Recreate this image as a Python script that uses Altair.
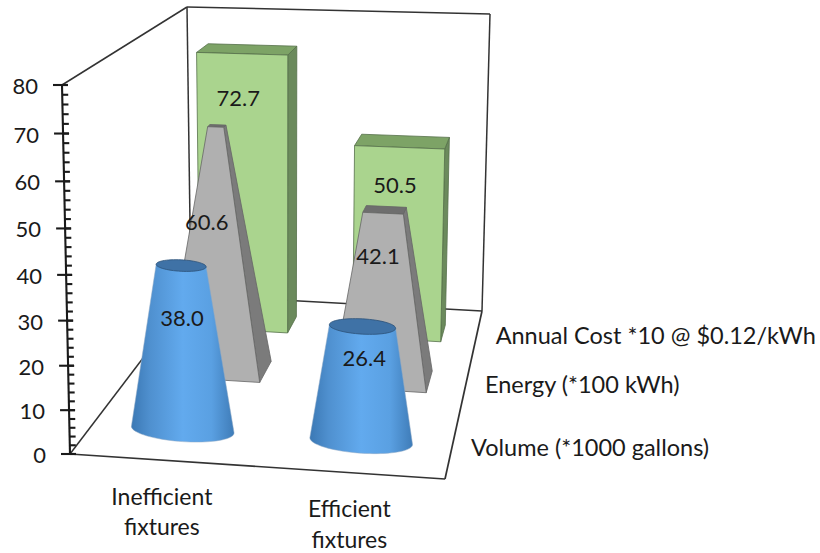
import math
import altair as alt
import pandas as pd

# Values shown on the chart
categories = ["Inefficient fixtures", "Efficient fixtures"]
series = ["Volume (*1000 gallons)", "Energy (*100 kWh)", "Annual Cost *10 @ $0.12/kWh"]
volume = [38.0, 26.4]
energy = [60.6, 42.1]
cost = [72.7, 50.5]
axis_ticks = list(range(0, 81, 10))
minor_ticks = list(range(0, 81, 2))

# Where the 3-D box of the plot lands on the canvas
W, H = 820, 553
FLOOR = {"fl": (70, 454), "fr": (445, 479), "bl": (191, 295), "br": (482, 311)}
CEIL = {"fl": (62, 85), "fr": (453, 99), "bl": (187, 7), "br": (490, 14)}
AXIS_MAX = 80
PERSPECTIVE = 0.06  # ticks spread out slightly towards the top of the box
APEX = max(cost)  # pyramids and cones taper to a point at the tallest value


def project(u, d, h):
    """Map category position u, depth d and value h to canvas coordinates."""
    r = h / AXIS_MAX
    t = r / (1 + PERSPECTIVE - PERSPECTIVE * r)
    out = []
    for k in (0, 1):
        floor = (1 - d) * ((1 - u) * FLOOR["fl"][k] + u * FLOOR["fr"][k]) + d * (
            (1 - u) * FLOOR["bl"][k] + u * FLOOR["br"][k]
        )
        ceil = (1 - d) * ((1 - u) * CEIL["fl"][k] + u * CEIL["fr"][k]) + d * (
            (1 - u) * CEIL["bl"][k] + u * CEIL["br"][k]
        )
        out.append((1 - t) * floor + t * ceil)
    return tuple(out)


X = alt.X("x:Q", scale=alt.Scale(domain=[0, W], nice=False, zero=False), axis=None)
Y = alt.Y("y:Q", scale=alt.Scale(domain=[H, 0], nice=False, zero=False), axis=None)


def poly_layer(points, fill, stroke=None, width=0.8):
    df = pd.DataFrame(points, columns=["x", "y"])
    df["i"] = range(len(df))
    kw = dict(fill=fill, interpolate="linear-closed", strokeWidth=width)
    kw["stroke"] = stroke if stroke else "transparent"
    return (
        alt.Chart(df)
        .mark_line(**kw)
        .encode(x=X, y=Y, order="i:Q")
    )


def segments_layer(segments, color, width):
    rows = []
    for n, (a, b) in enumerate(segments):
        rows.append({"x": a[0], "y": a[1], "seg": n, "i": 0})
        rows.append({"x": b[0], "y": b[1], "seg": n, "i": 1})
    return (
        alt.Chart(pd.DataFrame(rows))
        .mark_line(color=color, strokeWidth=width)
        .encode(x=X, y=Y, detail="seg:N", order="i:Q")
    )


def text_layer(rows, size=21, align="center", dx=0, dy=0, color="#1a1a1a"):
    df = pd.DataFrame(rows, columns=["x", "y", "label"])
    return (
        alt.Chart(df)
        .mark_text(font="Lato", fontSize=size, align=align, baseline="middle",
                   dx=dx, dy=dy, color=color)
        .encode(x=X, y=Y, text="label:N")
    )


def block(uc, hw, dc, hd, h, taper, front, side, top, edge):
    """Square column or truncated pyramid: visible faces, back to front."""
    s = 1 - h / APEX if taper else 1
    fbl = project(uc - hw, dc - hd, 0)
    fbr = project(uc + hw, dc - hd, 0)
    bbr = project(uc + hw, dc + hd, 0)
    ftl = project(uc - hw * s, dc - hd * s, h)
    ftr = project(uc + hw * s, dc - hd * s, h)
    btr = project(uc + hw * s, dc + hd * s, h)
    btl = project(uc - hw * s, dc + hd * s, h)
    return [
        poly_layer([fbr, bbr, btr, ftr], side, edge),
        poly_layer([ftl, ftr, btr, btl], top, edge),
        poly_layer([fbl, fbr, ftr, ftl], front, edge),
    ]


CONE_GRADIENT = alt.LinearGradient(
    gradient="linear",
    x1=0, x2=1, y1=0, y2=0,
    stops=[
        alt.GradientStop(color="#3b78b4", offset=0),
        alt.GradientStop(color="#4f90cf", offset=0.18),
        alt.GradientStop(color="#62aaee", offset=0.5),
        alt.GradientStop(color="#5aa0e2", offset=0.78),
        alt.GradientStop(color="#3f7cb8", offset=1),
    ],
)


def cone(uc, r, d, h, minor):
    s = 1 - h / APEX

    def rim(height, scale, start, stop, n=40):
        pts = []
        for j in range(n + 1):
            a = math.radians(start + (stop - start) * j / n)
            px, py = project(uc + r * scale * math.cos(a), d, height)
            pts.append((px, py + minor * scale * math.sin(a)))
        return pts

    body = rim(0, 1, 180, 0)
    body = [rim(h, s, 180, 180, 1)[0]] + body + [rim(h, s, 0, 0, 1)[0]]
    return [
        poly_layer(body, CONE_GRADIENT, "#8fa9c4", 0.5),
        poly_layer(rim(h, s, 0, 360, 60), "#3f72a6", "#2c5278", 0.8),
    ]


# Layout of the rows and columns on the floor of the box
U_CENTER = [0.245, 0.745]
GREEN_CENTER = [0.248, 0.746]
CONE_CENTER = [0.25, 0.747]
ROW = {"cost": (0.855, 0.05), "energy": (0.565, 0.065), "volume": 0.19}
GREEN_HW, GREY_HW, CONE_R, CONE_MINOR = 0.143, 0.143, 0.143, 12

layers = []

# Side and back walls
layers.append(
    segments_layer(
        [
            (project(0, 0, AXIS_MAX), project(0, 1, AXIS_MAX)),
            (project(0, 1, AXIS_MAX), project(1, 1, AXIS_MAX)),
            (project(1, 1, AXIS_MAX), project(1, 1, 0)),
            (project(0, 1, AXIS_MAX), project(0, 1, 0)),
            (project(0, 1, 0), project(1, 1, 0)),
            (project(0, 0, 0), project(0, 1, 0)),
        ],
        "#333333",
        1.5,
    )
)

# Floor edges in front of the columns
layers.append(
    segments_layer(
        [
            (project(0, 0, 0), project(1, 0, 0)),
            (project(1, 0, 0), project(1, 1, 0)),
        ],
        "#333333",
        1.7,
    )
)

# Value axis with major and minor ticks
axis_segments = [(project(0, 0, 0), project(0, 0, AXIS_MAX))]
for v in minor_ticks:
    px, py = project(0, 0, v)
    axis_segments.append(((px, py), (px + 6, py)))
for v in axis_ticks:
    px, py = project(0, 0, v)
    axis_segments.append(((px - 9, py), (px + 6, py)))
layers.append(segments_layer(axis_segments, "#1a1a1a", 2.1))

# Columns, far row first
for i in range(2):
    layers += block(GREEN_CENTER[i], GREEN_HW, *ROW["cost"], cost[i], False,
                    "#aad48e", "#6b8a5c", "#7da366", "#55704a")
for i in range(2):
    layers += block(U_CENTER[i], GREY_HW, *ROW["energy"], energy[i], True,
                    "#b0b0b0", "#7b7b7b", "#6e6e6e", "#666666")
for i in range(2):
    layers += cone(CONE_CENTER[i], CONE_R, ROW["volume"], volume[i], CONE_MINOR)

# Value labels sit inside their columns
label_spots = [
    (cost, ROW["cost"][0] - ROW["cost"][1], [0.837, 0.795], [-0.01, -0.012]),
    (energy, ROW["energy"][0] - ROW["energy"][1], [0.638, 0.77], [-0.012, -0.007]),
    (volume, ROW["volume"], [0.672, 0.71], [0.006, 0.008]),
]
value_rows = []
for vals, d, fracs, shifts in label_spots:
    for i, v in enumerate(vals):
        px, py = project(U_CENTER[i] + shifts[i], d, v * fracs[i])
        value_rows.append((px, py, f"{v:.1f}"))
layers.append(text_layer(value_rows, size=22, dy=-1.5))

# Tick labels
tick_rows = [(*project(0, 0, v), str(v)) for v in axis_ticks]
layers.append(text_layer(tick_rows, size=22, align="right", dx=-24, dy=2))

# Category labels, one word per line
cat_first = [(*project(U_CENTER[i], 0, 0), c.split()[0]) for i, c in enumerate(categories)]
cat_second = [(*project(U_CENTER[i], 0, 0), c.split()[1]) for i, c in enumerate(categories)]
layers.append(text_layer(cat_first, size=23, dy=37.5))
layers.append(text_layer(cat_second, size=23, dy=68))

# Series labels beside the right floor edge
series_depth = [ROW["volume"], ROW["energy"][0], ROW["cost"][0]]
series_rows = [(*project(1, series_depth[i], 0), s) for i, s in enumerate(series)]
layers.append(text_layer(series_rows, size=23.5, align="left", dx=19, dy=1.5))

chart = (
    alt.layer(*layers)
    .properties(width=W, height=H, padding=0, autosize=alt.AutoSizeParams(type="none"), background="white")
    .configure_view(stroke=None)
)

chart.save("out.html", embed_options={"renderer": "svg", "actions": False})
